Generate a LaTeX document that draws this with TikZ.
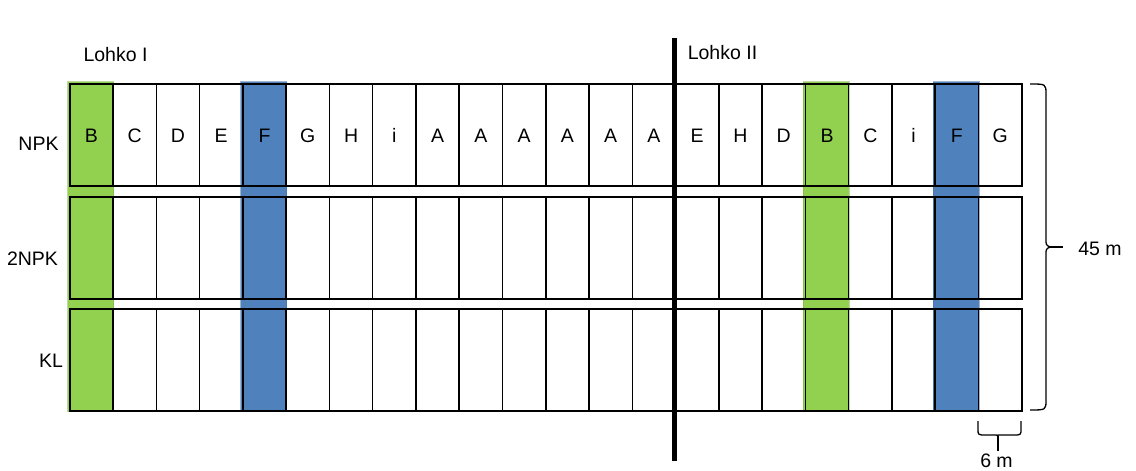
\documentclass[tikz,border=0pt]{standalone}
\usepackage{fontspec}
\setmainfont{Liberation Sans}
\definecolor{barGreen}{RGB}{146,208,80}
\definecolor{barBlue}{RGB}{79,129,189}
\begin{document}
\begin{tikzpicture}[x=1pt,y=-1pt,
  cell/.style={draw=black,line width=1.6pt,minimum width=43.27pt,minimum height=102pt,inner sep=0pt,anchor=north west},
  lbl/.style={font=\fontsize{19.5}{22}\selectfont,inner sep=0pt,anchor=base},
  greenbar/.style={fill=barGreen,draw=barGreen!85!black,draw opacity=0.5,line width=0.8pt},
  bluebar/.style={fill=barBlue,draw=barBlue!85!black,draw opacity=0.5,line width=0.8pt},
  divider/.style={line width=4.3pt,draw=black},
  bracepath/.style={draw=black,line width=1.3pt}
]
\useasboundingbox (0,0) rectangle (1136,471);

% coloured bars (background)
\foreach \i/\s in {1/greenbar,5/bluebar,18/greenbar,21/bluebar}{
  \path[\s] ({69+(\i-1)*43.27-1.5},81.5) rectangle ({69+\i*43.27+1.5},411.5);
}

% cells
\foreach \r/\t in {1/83,2/196,3/308}{
  \foreach \i in {1,...,22}{
    \node[cell] (c\r-\i) at ({69+(\i-1)*43.27},\t) {};
  }
}

% letters in first row
\foreach \l [count=\i] in {B,C,D,E,F,G,H,i,A,A,A,A,A,A,E,H,D,B,C,i,F,G}{
  \node[lbl] (t\i) at ([yshift=-7.5pt]c1-\i.center) {\l};
}

% row labels
\node[lbl] (npk) at (38.5,150.5) {NPK};
\node[lbl] (npk2) at (32.5,265) {2NPK};
\node[lbl] (kl) at (51,367) {KL};

% block labels
\node[lbl] (l1) at (115.5,61.5) {Lohko I};
\node[lbl] (l2) at (722.5,59.5) {Lohko II};

% divider
\coordinate (dt) at (674.5,38);
\coordinate (db) at (674.5,461);
\draw[divider] (dt) -- (db);

% right brace 45 m
\coordinate (rb1) at (1030,84);
\coordinate (rb2) at (1030,410);
\coordinate (rtip) at (1050,247);
\coordinate (rtick) at (1063,247);
\draw[bracepath] (rb1) .. controls (1046,84) .. (1046,94) -- (1046,239)
  .. controls (1046,245) .. (rtip) .. controls (1046,249) .. (1046,255)
  -- (1046,400) .. controls (1046,410) .. (rb2);
\draw[bracepath] (rtip) -- (rtick);
\node[lbl] (m45) at (1100,255) {45 m};

% bottom brace 6 m
\coordinate (bb1) at (978,421);
\coordinate (bb2) at (1021,421);
\coordinate (btip) at (997.5,436);
\coordinate (btick) at (997.5,451);
\draw[bracepath] (bb1) -- (978,429) .. controls (978,435) .. (986,435) -- (992,435)
  .. controls (997.5,435) .. (btip) .. controls (997.5,435) .. (1003,435)
  -- (1013,435) .. controls (1021,435) .. (1021,429) -- (bb2);
\draw[bracepath,line width=2pt] (btip) -- (btick);
\node[lbl] (m6) at (996.5,467) {6 m};
\end{tikzpicture}
\end{document}
